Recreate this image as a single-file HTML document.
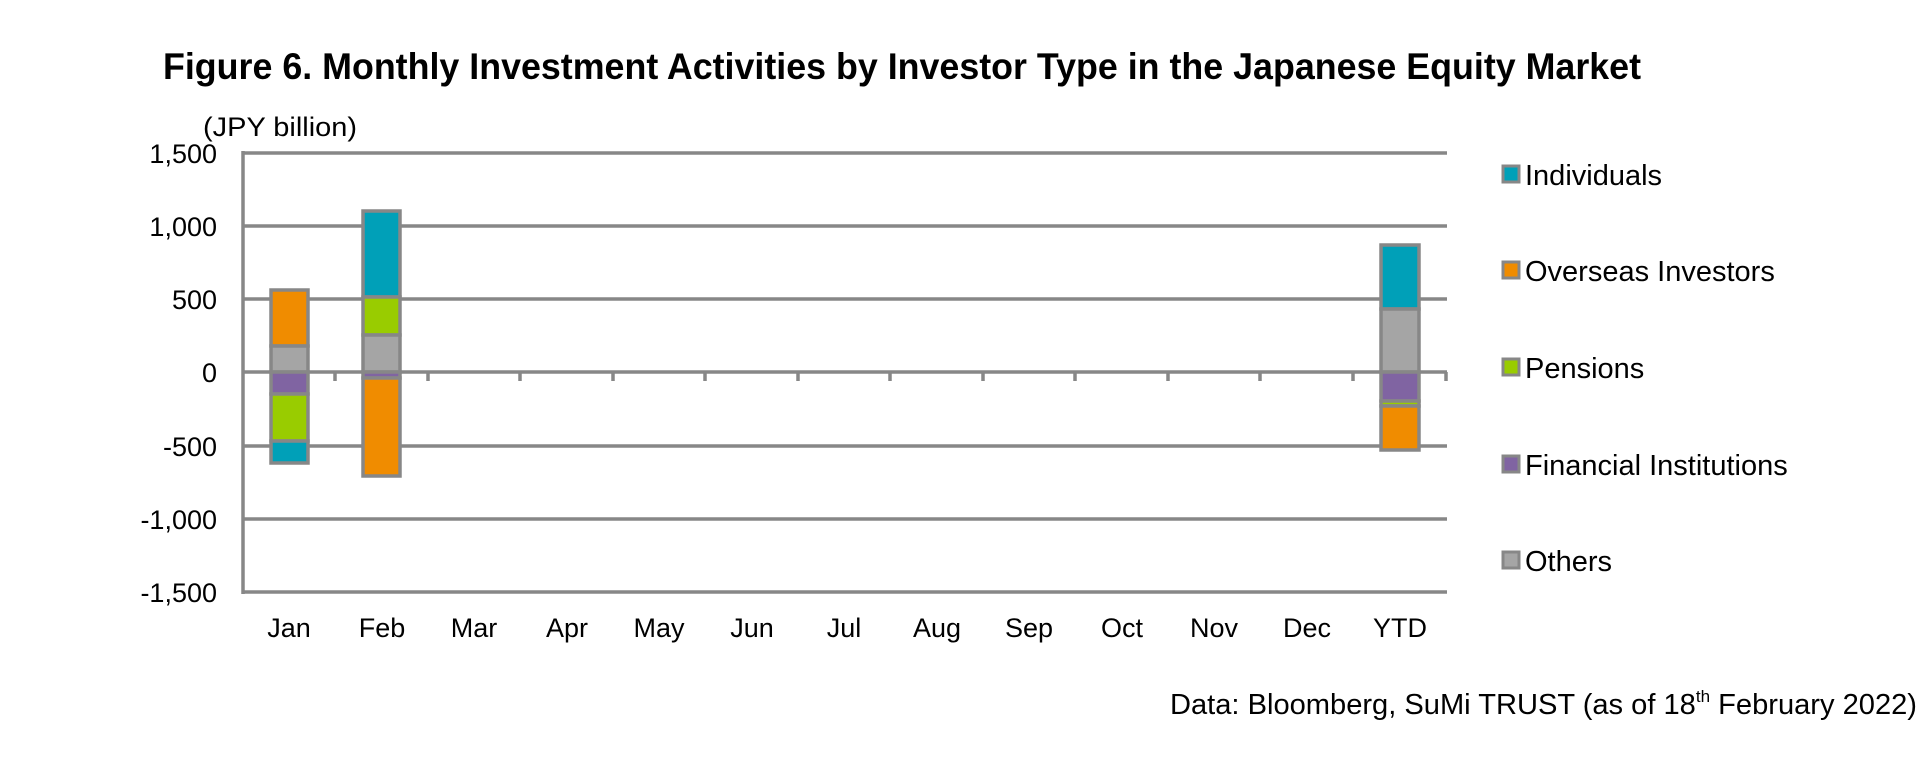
<!DOCTYPE html>
<html><head><meta charset="utf-8"><style>
html,body{margin:0;padding:0;background:#fff;}
svg{display:block;font-family:"Liberation Sans",Arial,sans-serif;}
</style></head><body>
<svg width="1920" height="773" viewBox="0 0 1920 773" xmlns="http://www.w3.org/2000/svg">
<text x="163" y="79" font-size="37" font-weight="bold" textLength="1478" lengthAdjust="spacingAndGlyphs">Figure 6. Monthly Investment Activities by Investor Type in the Japanese Equity Market</text>
<text x="203" y="136" font-size="27" textLength="154" lengthAdjust="spacingAndGlyphs">(JPY billion)</text>
<g stroke="#878787" stroke-width="3.5">
<line x1="243" y1="153" x2="1447" y2="153"/>
<line x1="243" y1="226" x2="1447" y2="226"/>
<line x1="243" y1="299" x2="1447" y2="299"/>
<line x1="243" y1="372" x2="1447" y2="372"/>
<line x1="243" y1="446" x2="1447" y2="446"/>
<line x1="243" y1="519" x2="1447" y2="519"/>
<line x1="243" y1="592" x2="1447" y2="592"/>
<line x1="243" y1="151" x2="243" y2="594"/>
<line x1="335" y1="372" x2="335" y2="381"/><line x1="428" y1="372" x2="428" y2="381"/><line x1="520" y1="372" x2="520" y2="381"/><line x1="613" y1="372" x2="613" y2="381"/><line x1="705" y1="372" x2="705" y2="381"/><line x1="798" y1="372" x2="798" y2="381"/><line x1="890" y1="372" x2="890" y2="381"/><line x1="983" y1="372" x2="983" y2="381"/><line x1="1075" y1="372" x2="1075" y2="381"/><line x1="1168" y1="372" x2="1168" y2="381"/><line x1="1260" y1="372" x2="1260" y2="381"/><line x1="1353" y1="372" x2="1353" y2="381"/><line x1="1446" y1="372" x2="1446" y2="381"/>
</g>
<g font-size="27" text-anchor="end">
<text x="217" y="163">1,500</text><text x="217" y="236">1,000</text><text x="217" y="309">500</text><text x="217" y="382">0</text><text x="217" y="456">-500</text><text x="217" y="529">-1,000</text><text x="217" y="602">-1,500</text>
</g>
<g font-size="27" text-anchor="middle">
<text x="289" y="637">Jan</text><text x="382" y="637">Feb</text><text x="474" y="637">Mar</text><text x="567" y="637">Apr</text><text x="659" y="637">May</text><text x="752" y="637">Jun</text><text x="844" y="637">Jul</text><text x="937" y="637">Aug</text><text x="1029" y="637">Sep</text><text x="1122" y="637">Oct</text><text x="1214" y="637">Nov</text><text x="1307" y="637">Dec</text><text x="1400" y="637">YTD</text>
</g>
<g stroke="#878787" stroke-width="3.5">
<rect x="271" y="290" width="37" height="56" fill="#f08c00"/>
<rect x="271" y="346" width="37" height="26" fill="#a5a5a5"/>
<rect x="271" y="372" width="37" height="22" fill="#8064a2"/>
<rect x="271" y="394" width="37" height="47" fill="#99cc00"/>
<rect x="271" y="441" width="37" height="22" fill="#00a0b8"/>
<rect x="363" y="211" width="37" height="86" fill="#00a0b8"/>
<rect x="363" y="297" width="37" height="38" fill="#99cc00"/>
<rect x="363" y="335" width="37" height="37" fill="#a5a5a5"/>
<rect x="363" y="372" width="37" height="6" fill="#8064a2"/>
<rect x="363" y="378" width="37" height="98" fill="#f08c00"/>
<rect x="1381" y="245" width="38" height="64" fill="#00a0b8"/>
<rect x="1381" y="309" width="38" height="63" fill="#a5a5a5"/>
<rect x="1381" y="372" width="38" height="29" fill="#8064a2"/>
<rect x="1381" y="401" width="38" height="5" fill="#99cc00"/>
<rect x="1381" y="406" width="38" height="44" fill="#f08c00"/>
</g>
<g stroke="#878787" stroke-width="3">
<rect x="1503" y="166" width="16" height="16" fill="#00a0b8"/>
<rect x="1503" y="262" width="16" height="16" fill="#f08c00"/>
<rect x="1503" y="359" width="16" height="16" fill="#99cc00"/>
<rect x="1503" y="456" width="16" height="16" fill="#8064a2"/>
<rect x="1503" y="552" width="16" height="16" fill="#a5a5a5"/>
</g>
<g font-size="29">
<text x="1525" y="185">Individuals</text>
<text x="1525" y="281">Overseas Investors</text>
<text x="1525" y="378">Pensions</text>
<text x="1525" y="475">Financial Institutions</text>
<text x="1525" y="571">Others</text>
</g>
<text x="1170" y="714" font-size="29" textLength="747" lengthAdjust="spacingAndGlyphs">Data: Bloomberg, SuMi TRUST (as of 18<tspan font-size="17" dy="-12">th</tspan><tspan dy="12"> February 2022)</tspan></text>
</svg>
</body></html>
